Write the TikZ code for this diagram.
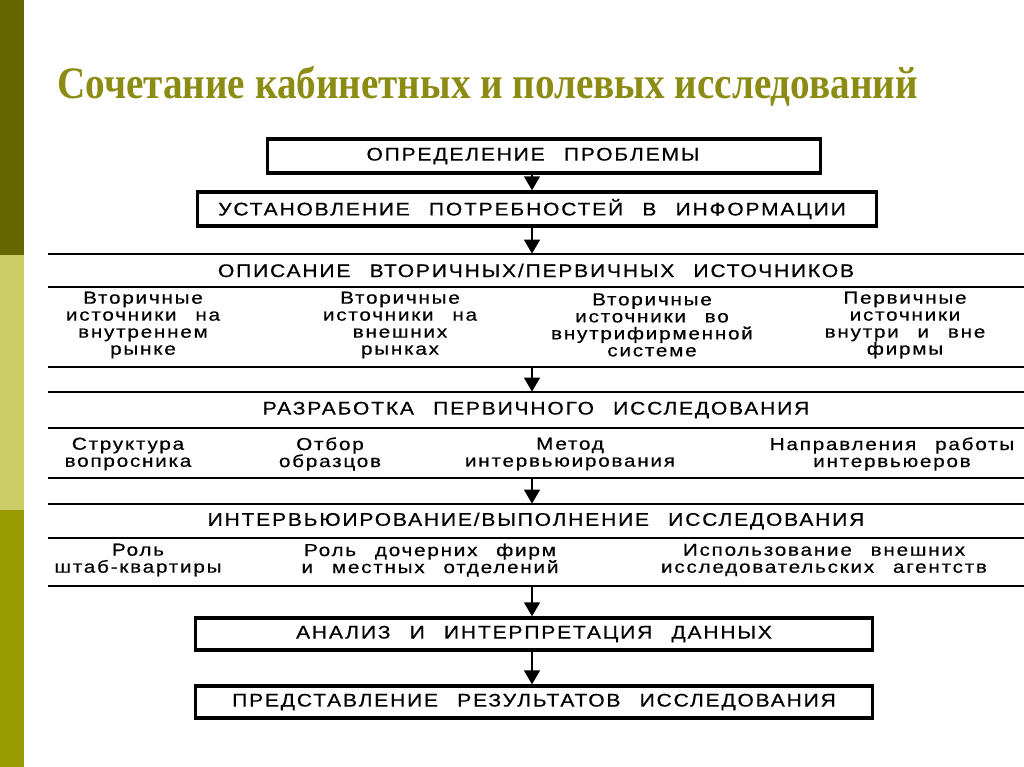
\documentclass[tikz,border=0pt]{standalone}
\usepackage{fontspec}
\setmainfont{Liberation Sans}
\newfontfamily\flowfont[LetterSpace=10,WordSpace=2.5,FakeStretch=1.15,FakeBold=0.6]{Liberation Sans}
\newfontfamily\itemfont[LetterSpace=10,WordSpace=2.5,FakeStretch=1.2,FakeBold=0.5]{Liberation Sans}
\newfontfamily\titlefont[FakeStretch=0.87]{Liberation Serif}
\usepackage{tikz}
\usetikzlibrary{
  positioning,
  arrows.meta
}
\definecolor{barDark}{RGB}{102,102,0}
\definecolor{barLight}{RGB}{204,204,102}
\definecolor{barMid}{RGB}{153,153,0}
\definecolor{titleOlive}{RGB}{140,140,20}

\begin{document}
\begin{tikzpicture}[
    x=0.025cm, y=-0.025cm,
    >=Triangle,
    % Box styles
    stepbox/.style={
        rectangle, draw=black, line width=2.2pt, inner sep=0pt,
        align=center, fill=white, minimum height=0.85cm,
        font=\flowfont\fontsize{13}{14}\selectfont
    },
    hdr/.style={
        rectangle, inner sep=0pt, minimum width=24.4cm,
        font=\flowfont\fontsize{13}{14}\selectfont
    },
    rowbox/.style={rectangle, inner sep=0pt, minimum width=24.4cm},
    item/.style={
        align=center, inner sep=0pt,
        font=\itemfont\fontsize{12.3}{12.1}\selectfont
    },
    title/.style={
        anchor=base west, inner sep=0pt, text=titleOlive,
        font=\titlefont\bfseries\fontsize{32}{36}\selectfont
    },
    % Line styles
    rule/.style={line width=1.5pt, draw=black},
    arr/.style={line width=2pt, draw=black,
        arrows={-Triangle[width=11pt,length=10pt]}}
]
\useasboundingbox (0,0) rectangle (1024,767);

% ==========================================
% SIDE BAR & TITLE
% ==========================================
\fill[barDark] (0,0) rectangle (24,255);
\fill[barLight] (0,255) rectangle (24,510);
\fill[barMid] (0,510) rectangle (24,767);

\node[title] (ttl) at (57,99) {Сочетание кабинетных и полевых исследований};

% ==========================================
% NODES & PLACEMENT
% ==========================================

% --- Top boxes (texts sit slightly left of the box centre) ---
\node[stepbox, minimum width=13.8cm] (prob) at (544,156) {\hspace*{-0.55cm}ОПРЕДЕЛЕНИЕ ПРОБЛЕМЫ};
\node[stepbox, minimum width=16.95cm] (need) at (537,209) {\hspace*{-0.25cm}УСТАНОВЛЕНИЕ ПОТРЕБНОСТЕЙ В ИНФОРМАЦИИ};

% --- Sources block ---
\node[hdr, minimum height=0.825cm] (src) at (536,270.5) {ОПИСАНИЕ ВТОРИЧНЫХ/ПЕРВИЧНЫХ ИСТОЧНИКОВ};
\node[rowbox, minimum height=2cm] (srcrow) at (536,327) {};
\node[item] (src1) at (143,325) {Вторичные\\источники на\\внутреннем\\рынке};
\node[item] (src2) at (400,325) {Вторичные\\источники на\\внешних\\рынках};
\node[item] (src3) at (652,325) {Вторичные\\источники во\\внутрифирменной\\системе};
\node[item] (src4) at (905,325) {Первичные\\источники\\внутри и вне\\фирмы};

% --- Primary research design block ---
\node[hdr, minimum height=0.9cm] (des) at (536,410) {РАЗРАБОТКА ПЕРВИЧНОГО ИССЛЕДОВАНИЯ};
\node[rowbox, minimum height=1.25cm] (desrow) at (536,453) {};
\node[item] (des1) at (128,454) {Структура\\вопросника};
\node[item] (des2) at (330,454) {Отбор\\образцов};
\node[item] (des3) at (570,454) {Метод\\интервьюирования};
\node[item] (des4) at (892,454) {Направления работы\\интервьюеров};

% --- Fieldwork block ---
\node[hdr, minimum height=0.85cm] (fld) at (536,521) {ИНТЕРВЬЮИРОВАНИЕ/ВЫПОЛНЕНИЕ ИССЛЕДОВАНИЯ};
\node[rowbox, minimum height=1.2cm] (fldrow) at (536,562) {};
\node[item] (fld1) at (138,560) {Роль\\штаб-квартиры};
\node[item] (fld2) at (430,560) {Роль дочерних фирм\\и местных отделений};
\node[item] (fld3) at (824,560) {Использование внешних\\исследовательских агентств};

% --- Bottom boxes ---
\node[stepbox, minimum width=16.9cm, minimum height=0.8cm] (anl) at (534,634) {АНАЛИЗ И ИНТЕРПРЕТАЦИЯ ДАННЫХ};
\node[stepbox, minimum width=16.9cm, minimum height=0.8cm] (rep) at (534,702) {ПРЕДСТАВЛЕНИЕ РЕЗУЛЬТАТОВ ИССЛЕДОВАНИЯ};

% ==========================================
% BLOCK RULES
% ==========================================
\foreach \blk in {src, des, fld} {
    \draw[rule] (\blk.north west) -- (\blk.north east);
    \draw[rule] (\blk.south west) -- (\blk.south east);
    \draw[rule] (\blk row.south west) -- (\blk row.south east);
}

% ==========================================
% ROUTING & ARROWS
% ==========================================
\coordinate (axis) at (532,0);
\draw[arr] (axis |- prob.south) -- (axis |- need.north);
\draw[arr] (axis |- need.south) -- (axis |- src.north);
\draw[arr] (axis |- srcrow.south) -- (axis |- des.north);
\draw[arr] (axis |- desrow.south) -- (axis |- fld.north);
\draw[arr] (axis |- fldrow.south) -- (axis |- anl.north);
\draw[arr] (axis |- anl.south) -- (axis |- rep.north);

\end{tikzpicture}
\end{document}
